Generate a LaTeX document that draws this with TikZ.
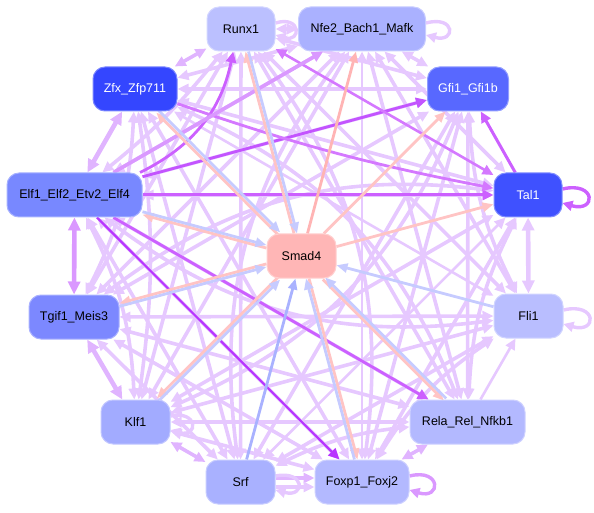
\documentclass[tikz,border=0pt]{standalone}
\usepackage{fontspec}
\setmainfont{Liberation Sans}
\usetikzlibrary{arrows.meta,calc}
\pgfdeclarelayer{bg}
\pgfsetlayers{bg,main}
\definecolor{lp}{HTML}{E6C8FF}
\definecolor{lpm}{HTML}{E0B4FF}
\definecolor{mp}{HTML}{DA98FF}
\definecolor{dp}{HTML}{CC60FF}
\definecolor{ddp}{HTML}{B836FF}
\definecolor{pk}{HTML}{FFC4C4}
\definecolor{pkd}{HTML}{FFB4B4}
\definecolor{bl}{HTML}{C6CBFF}
\definecolor{bld}{HTML}{A9B2FF}
\definecolor{cRu}{HTML}{BBC0FF}
\definecolor{cNf}{HTML}{AAB1FF}
\definecolor{cZf}{HTML}{3446FF}
\definecolor{cGf}{HTML}{5868FF}
\definecolor{cEl}{HTML}{7888FF}
\definecolor{cTa}{HTML}{3F51FF}
\definecolor{cSm}{HTML}{FFB6B6}
\definecolor{cTg}{HTML}{7C88FF}
\definecolor{cFl}{HTML}{B9BEFF}
\definecolor{cKl}{HTML}{A2ABFF}
\definecolor{cRe}{HTML}{B3B9FF}
\definecolor{cSr}{HTML}{A9B1FF}
\definecolor{cFo}{HTML}{B3B9FF}
\tikzset{
  nd/.style={rectangle, rounded corners=12pt, minimum height=44pt, inner sep=0pt,
    font=\fontsize{12.5}{15}\selectfont, line width=1pt, fill=#1, draw=#1!65!white},
  both/.style={draw=lp, line width=3.6pt,
    {Triangle[length=11pt,width=10pt]}-{Triangle[length=11pt,width=10pt]}},
  one/.style={draw=lp, line width=3.6pt, -{Triangle[length=11pt,width=10pt]}},
  wide/.style={line width=4.6pt,
    {Triangle[length=13pt,width=12pt]}-{Triangle[length=13pt,width=12pt]}},
  thin/.style={line width=2.6pt},
  pke/.style={draw=pk, line width=2.8pt, -{Triangle[length=11pt,width=9pt]}},
  ble/.style={draw=bl, line width=2.8pt, -{Triangle[length=11pt,width=9pt]}},
  lpe/.style={line width=3.4pt, -{Triangle[length=10pt,width=10pt]}},
}
\begin{document}
\begin{tikzpicture}[x=1pt,y=1pt]
\useasboundingbox (0,0) rectangle (594,512);
% nodes
\node[nd=cRu, minimum width=68pt] (ru) at (241,483) {Runx1};
\node[nd=cNf, minimum width=127pt] (nf) at (362,483) {Nfe2\_Bach1\_Mafk};
\node[nd=cZf, minimum width=84pt, text=white] (zf) at (135,423) {Zfx\_Zfp711};
\node[nd=cGf, minimum width=81pt, text=white] (gf) at (468,423) {Gfi1\_Gfi1b};
\node[nd=cEl, minimum width=135pt] (el) at (74.5,317) {Elf1\_Elf2\_Etv2\_Elf4};
\node[nd=cTa, minimum width=68pt, text=white] (ta) at (528,317) {Tal1};
\node[nd=cSm, minimum width=69pt] (sm) at (301.5,256) {Smad4};
\node[nd=cTg, minimum width=90pt] (tg) at (74,195) {Tgif1\_Meis3};
\node[nd=cFl, minimum width=69pt] (fl) at (528.5,196) {Fli1};
\node[nd=cKl, minimum width=69pt] (kl) at (135.5,90) {Klf1};
\node[nd=cRe, minimum width=115pt] (re) at (467.5,90) {Rela\_Rel\_Nfkb1};
\node[nd=cSr, minimum width=69pt] (sr) at (240.5,30) {Srf};
\node[nd=cFo, minimum width=94pt] (fo) at (362,30) {Foxp1\_Foxj2};
\begin{pgfonlayer}{bg}
% ---- ring: opposite pairs (around Smad4)
\draw[both] (ru) to[bend left=22] (fo);
\draw[both] (nf) to[bend right=22] (sr);
\draw[both] (gf) to[bend left=22] (kl);
\draw[both] (ta) to[bend right=22] (tg);
\draw[both] (fl) to[bend left=22] (el);
\draw[both] (re) to[bend right=22] (zf);
% ---- distance 5
\draw[both] (ru) -- (re);
\draw[both,thin] (nf) -- (fo);
\draw[both] (gf) -- (sr);
\draw[both] (ta) -- (kl);
\draw[both] (fl) -- (tg);
\draw[both] (re) -- (el);
\draw[both] (fo) -- (zf);
\draw[both] (sr) -- (ru);
\draw[both] (kl) -- (nf);
\draw[both] (tg) -- (gf);
\draw[both] (el) -- (ta);
\draw[both,thin] (zf) -- (fl);
% ---- distance 4
\draw[both] (ru) -- (fl);
\draw[both] (nf) -- (re);
\draw[both] (gf) -- (fo);
\draw[both,thin] (ta) -- (sr);
\draw[both] (fl) -- (kl);
\draw[both] (re) -- (tg);
\draw[both] (fo) -- (el);
\draw[both] (sr) -- (zf);
\draw[both] (kl) -- (ru);
\draw[both] (tg) -- (nf);
\draw[both] (el) -- (gf);
\draw[both] (zf) -- (ta);
% ---- distance 3
\draw[both] (nf) -- (fl);
\draw[both] (gf) -- (re);
\draw[both] (ta) -- (fo);
\draw[both] (fl) -- (sr);
\draw[both] (re) -- (kl);
\draw[both] (fo) -- (tg);
\draw[both] (sr) -- (el);
\draw[both] (kl) to[bend right=8] (zf);
\draw[both] (tg) -- (ru);
\draw[both] (el) -- (nf);
\draw[both] (zf) -- (gf);
% ---- distance 2
\draw[both] (ru) -- (gf);
\draw[both] (nf) -- (ta);
\draw[both] (gf) to[bend right=12] (fl);
\draw[both] (ta) to[bend right=12] (re);
\draw[both] (fl) to[bend right=12] (fo);
\draw[both] (re) to[bend right=10] (sr);
\draw[both] (fo) -- (kl);
\draw[both] (sr) -- (tg);
\draw[both] (kl) to[bend right=12] (el);
\draw[both] (tg) to[bend right=12] (zf);
\draw[both] (el) to[bend right=6] (ru);
\draw[both] (zf) -- (nf);
% ---- adjacent
\draw[both] (ru) -- (nf);
\draw[both] (nf) -- (gf);
\draw[both,wide] (ta) -- (fl);
\draw[one,thin] (re) -- (fl);
\draw[both,draw=lpm] (re) -- (fo);
\draw[one,draw=lpm,transform canvas={yshift=4pt}] (sr) -- (fo);
\draw[one,transform canvas={yshift=-5pt}] (sr) -- (fo);
\draw[both,draw=lpm] (kl) -- (sr);
\draw[both,wide,draw=lpm] (kl) -- (tg);
\draw[both,wide,draw=mp] (tg) -- (el);
\draw[both,wide,draw=lpm] (el) -- (zf);
\draw[both,draw=lpm] (zf) -- (ru);
% ---- self loops
\draw[lpe,draw=lp] ([yshift=6pt]ru.east) .. controls +(26pt,8pt) and +(26pt,-8pt) .. ([yshift=-6pt]ru.east);
\draw[lpe,draw=lp] ([yshift=6pt]nf.east) .. controls +(30pt,8pt) and +(30pt,-8pt) .. ([yshift=-6pt]nf.east);
\draw[lpe,draw=dp] ([yshift=6pt]ta.east) .. controls +(34pt,8pt) and +(34pt,-10pt) .. ([yshift=-8pt]ta.east);
\draw[lpe,draw=lp] ([yshift=6pt]fl.east) .. controls +(34pt,8pt) and +(34pt,-10pt) .. ([yshift=-8pt]fl.east);
\draw[lpe,draw=mp] ([yshift=6pt]fo.east) .. controls +(32pt,8pt) and +(32pt,-10pt) .. ([yshift=-8pt]fo.east);
\draw[lpe,draw=lp] ([yshift=6pt]sr.east) .. controls +(30pt,6pt) and +(30pt,-8pt) .. ([yshift=-8pt]sr.east);
\draw[lpe,draw=lp] ([yshift=6pt]kl.east) .. controls +(28pt,6pt) and +(28pt,-8pt) .. ([yshift=-8pt]kl.east);
% ---- emphasised edges
\draw[one,draw=dp,line width=3pt] (ta) -- (gf);
\draw[one,draw=dp,line width=3pt] (el) -- (ta);
\draw[one,draw=ddp!85!white,line width=2.8pt] (el) -- (gf);
\draw[one,draw=dp,line width=2.8pt] (el) to[bend right=26] (ru);
\draw[both,draw=dp!85!white,line width=2.6pt] (ru) -- (ta);
\draw[one,draw=dp!85!white,line width=2.8pt] (zf) to[bend right=4] (ta);
\draw[one,draw=mp] (el) -- (nf);
\draw[one,draw=ddp,line width=2.2pt] (el) -- (fo);
\draw[one,draw=dp,line width=2.8pt] (el) -- (re);
% ---- Smad4 edges
\draw[pke,transform canvas={xshift=-1.5pt}] (sm) -- (ru);
\draw[ble,transform canvas={xshift=1.5pt}] (ru) -- (sm);
\draw[pke,draw=pkd] (sm) -- (nf);
\draw[pke] (sm) -- (gf);
\draw[pke] (sm) -- (ta);
\draw[ble] (fl) -- (sm);
\draw[pke,transform canvas={shift={(-1.1pt,-1.1pt)}}] (sm) -- (re);
\draw[ble,transform canvas={shift={(1.1pt,1.1pt)}}] (re) -- (sm);
\draw[pke,transform canvas={xshift=1.5pt}] (sm) -- (fo);
\draw[ble,transform canvas={xshift=-1.5pt}] (fo) -- (sm);
\draw[ble,draw=bld] (sr) -- (sm);
\draw[pke,transform canvas={shift={(-1.1pt,1.1pt)}}] (sm) -- (kl);
\draw[ble,transform canvas={shift={(1.1pt,-1.1pt)}}] (kl) -- (sm);
\draw[pke,transform canvas={yshift=1.5pt}] (sm) -- (tg);
\draw[ble,transform canvas={yshift=-1.5pt}] (tg) -- (sm);
\draw[pke,transform canvas={yshift=-1.5pt}] (sm) -- (el);
\draw[ble,transform canvas={yshift=1.5pt}] (el) -- (sm);
\draw[pke,transform canvas={shift={(-1.1pt,-1.1pt)}}] (sm) -- (zf);
\draw[ble,transform canvas={shift={(1.1pt,1.1pt)}}] (zf) -- (sm);
\end{pgfonlayer}
\end{tikzpicture}
\end{document}
